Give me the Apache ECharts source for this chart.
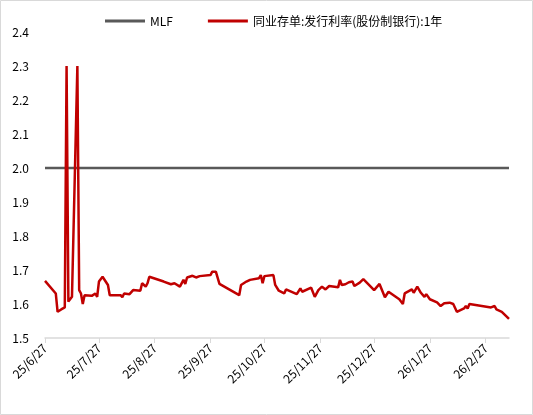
<!DOCTYPE html>
<html lang="zh">
<head>
    <meta charset="UTF-8">
    <title>同业存单发行利率 vs MLF</title>
    <style>
        html, body { margin: 0; padding: 0; background: #fff; }
        #main { width: 533px; height: 415px; }
    </style>
    <script src="https://cdn.jsdelivr.net/npm/echarts@6/dist/echarts.min.js"></script>
</head>
<body>
<div id="main"></div>
<script type="text/javascript">
    // 横轴起止（逐日）
    var startDate = '2025-06-27';
    var endDate = '2026-03-12';

    // MLF
    var mlfDates = ['2025-06-27', '2026-03-12'];
    var mlfValues = [2.0, 2.0];

    // 同业存单:发行利率(股份制银行):1年
    var ncdDates = [
        '2025-06-27','2025-07-03','2025-07-04','2025-07-06','2025-07-08','2025-07-09','2025-07-10','2025-07-11',
        '2025-07-12','2025-07-15','2025-07-16','2025-07-17','2025-07-18','2025-07-19','2025-07-23','2025-07-25',
        '2025-07-26','2025-07-27','2025-07-29','2025-08-01','2025-08-02','2025-08-08','2025-08-09','2025-08-10',
        '2025-08-13','2025-08-15','2025-08-19','2025-08-20','2025-08-22','2025-08-23','2025-08-24','2025-09-01',
        '2025-09-05','2025-09-07','2025-09-10','2025-09-12','2025-09-13','2025-09-14','2025-09-17','2025-09-19',
        '2025-09-21','2025-09-27','2025-09-28','2025-09-30','2025-10-02','2025-10-13','2025-10-14','2025-10-15',
        '2025-10-17','2025-10-19','2025-10-24','2025-10-25','2025-10-26','2025-10-27','2025-11-01','2025-11-02',
        '2025-11-04','2025-11-07','2025-11-08','2025-11-14','2025-11-16','2025-11-17','2025-11-22','2025-11-24',
        '2025-11-26','2025-11-28','2025-11-30','2025-12-02','2025-12-07','2025-12-08','2025-12-09','2025-12-11',
        '2025-12-13','2025-12-14','2025-12-15','2025-12-16','2025-12-19','2025-12-21','2025-12-27','2025-12-30',
        '2026-01-02','2026-01-04','2026-01-10','2026-01-12','2026-01-13','2026-01-17','2026-01-18','2026-01-20',
        '2026-01-22','2026-01-24','2026-01-25','2026-01-27','2026-01-31','2026-02-02','2026-02-04','2026-02-07',
        '2026-02-09','2026-02-11','2026-02-15','2026-02-16','2026-02-17','2026-02-18','2026-03-02','2026-03-04',
        '2026-03-05','2026-03-08','2026-03-12'
    ];
    var ncdValues = [
        1.668,1.631,1.577,1.584,1.590,2.300,1.607,1.612,
        1.621,2.300,1.641,1.631,1.600,1.626,1.624,1.631,
        1.621,1.666,1.680,1.656,1.626,1.626,1.620,1.631,
        1.629,1.641,1.639,1.661,1.651,1.661,1.680,1.666,
        1.658,1.661,1.651,1.671,1.659,1.678,1.683,1.678,
        1.682,1.685,1.695,1.695,1.659,1.626,1.656,1.658,
        1.666,1.671,1.676,1.685,1.661,1.682,1.685,1.656,
        1.639,1.631,1.643,1.629,1.646,1.636,1.648,1.621,
        1.641,1.651,1.643,1.653,1.649,1.671,1.656,1.658,
        1.664,1.661,1.666,1.653,1.663,1.673,1.641,1.659,
        1.620,1.636,1.614,1.600,1.631,1.643,1.633,1.651,
        1.633,1.621,1.629,1.614,1.605,1.594,1.602,1.604,
        1.600,1.577,1.587,1.594,1.587,1.600,1.590,1.594,
        1.584,1.577,1.556
    ];

    // 逐日类目
    function pad(n) { return n < 10 ? '0' + n : '' + n; }
    var days = [];
    var d = new Date(startDate + 'T00:00:00Z');
    var end = new Date(endDate + 'T00:00:00Z');
    while (d <= end) {
        days.push(d.getUTCFullYear() + '-' + pad(d.getUTCMonth() + 1) + '-' + pad(d.getUTCDate()));
        d.setUTCDate(d.getUTCDate() + 1);
    }
    function align(dates, values) {
        var out = days.map(function () { return null; });
        dates.forEach(function (dt, i) {
            var k = days.indexOf(dt);
            if (k >= 0) out[k] = values[i];
        });
        return out;
    }
    function isTick(idx, val) { return val.slice(8) === '27'; }

    var myChart = echarts.init(document.getElementById('main'));
    var font = '"Noto Sans CJK SC", "Noto Sans", sans-serif';
    var option = {
        animation: false,
        textStyle: { fontFamily: font },
        graphic: [{
            type: 'rect',
            shape: { x: 0.5, y: 0.5, width: 532, height: 414 },
            style: { fill: null, stroke: '#d9d9d9', lineWidth: 1 },
            silent: true
        }],
        legend: {
            top: 10,
            left: 100,
            itemGap: 35,
            itemWidth: 40,
            itemHeight: 3,
            icon: 'rect',
            textStyle: { fontSize: 12, color: '#000', fontFamily: font },
            data: ['MLF', '同业存单:发行利率(股份制银行):1年']
        },
        grid: { left: 45, right: 24, top: 32, bottom: 77, containLabel: false },
        xAxis: {
            type: 'category',
            boundaryGap: false,
            data: days,
            axisLine: { lineStyle: { color: '#d9d9d9', width: 1.5 } },
            axisTick: { interval: isTick, length: 5, lineStyle: { color: '#d9d9d9' } },
            axisLabel: {
                interval: isTick,
                rotate: 45,
                fontSize: 12,
                color: '#000',
                margin: 8,
                fontFamily: font,
                formatter: function (v) {
                    var p = v.split('-');
                    return p[0].slice(2) + '/' + parseInt(p[1], 10) + '/' + parseInt(p[2], 10);
                }
            },
            splitLine: { show: false }
        },
        yAxis: {
            type: 'value',
            min: 1.5,
            max: 2.4,
            interval: 0.1,
            axisLine: { show: false },
            axisTick: { show: false },
            splitLine: { show: false },
            axisLabel: {
                fontSize: 12,
                color: '#000',
                margin: 16,
                fontFamily: font,
                formatter: function (v) { return v.toFixed(1); }
            }
        },
        series: [{
            name: 'MLF',
            type: 'line',
            data: align(mlfDates, mlfValues),
            connectNulls: true,
            showSymbol: false,
            symbol: 'none',
            lineStyle: { color: '#595959', width: 2.5 },
            itemStyle: { color: '#595959' }
        }, {
            name: '同业存单:发行利率(股份制银行):1年',
            type: 'line',
            data: align(ncdDates, ncdValues),
            connectNulls: true,
            showSymbol: false,
            symbol: 'none',
            lineStyle: { color: '#c00000', width: 2.5 },
            itemStyle: { color: '#c00000' }
        }]
    };
    myChart.setOption(option);
</script>
</body>
</html>
